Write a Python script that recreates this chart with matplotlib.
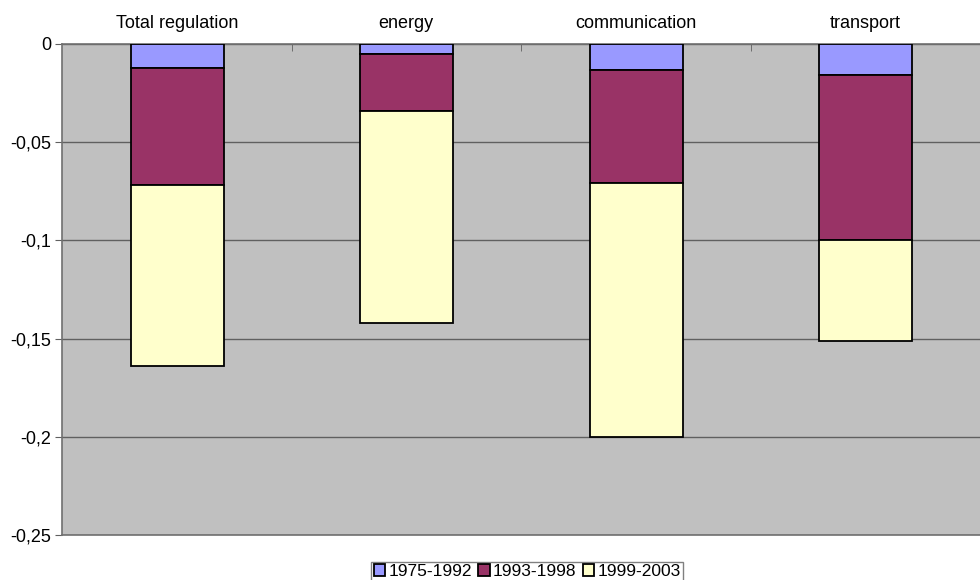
import matplotlib
matplotlib.use("Agg")
import matplotlib.pyplot as plt
import numpy as np

categories = ["Total regulation", "energy", "communication", "transport"]
series_names = ["1975-1992", "1993-1998", "1999-2003"]
s1975 = [-0.012, -0.005, -0.013, -0.016]
s1993 = [-0.060, -0.029, -0.058, -0.084]
s1999 = [-0.092, -0.108, -0.129, -0.051]
colors = ["#9999FF", "#993366", "#FFFFCC"]
yticks = [0, -0.05, -0.1, -0.15, -0.2, -0.25]
ytick_labels = ["0", "-0,05", "-0,1", "-0,15", "-0,2", "-0,25"]

plt.rcParams['font.family'] = ['Liberation Sans', 'DejaVu Sans']
fig = plt.figure(figsize=(9.8, 5.8), dpi=100)
ax = fig.add_axes([62/980, 1-535/580, (980-62)/980, (535-44)/580])
ax.set_facecolor("#C0C0C0")

x = np.arange(len(categories))
bottom = np.zeros(len(categories))
for vals, name, c in zip([s1975, s1993, s1999], series_names, colors):
    ax.bar(x + 0.003, vals, bottom=bottom, width=0.405, color=c, edgecolor="black",
           linewidth=1.3, label=name, zorder=3)
    bottom = bottom + np.array(vals)

ax.set_xlim(-0.5, len(categories) - 0.5)
ax.set_ylim(-0.25, 0)
ax.set_yticks(yticks)
ax.set_yticklabels(ytick_labels, fontsize=13)
ax.yaxis.grid(True, color="#606060", linewidth=1, zorder=1)
ax.set_axisbelow(True)

ax.xaxis.tick_top()
ax.set_xticks(x)
ax.set_xticklabels(categories, fontsize=13)
ax.tick_params(axis='x', which='major', length=0, pad=9)
ax.set_xticks(np.arange(0.5, len(categories) - 0.5), minor=True)
ax.tick_params(axis='x', which='minor', direction='in', length=5, color="#606060", top=True, bottom=False)
ax.tick_params(axis='y', length=5, color="#606060", direction='out', pad=3)

for sp in ["top", "left", "bottom"]:
    ax.spines[sp].set_color("#707070")
    ax.spines[sp].set_linewidth(1.2)
ax.spines["right"].set_visible(False)

leg = fig.legend(loc="lower center", bbox_to_anchor=(0.538, -0.006), ncol=3, fontsize=12.5,
                 frameon=True, fancybox=False, edgecolor="#606060",
                 handlelength=0.65, handleheight=0.65, handletextpad=0.2,
                 columnspacing=0.35, borderpad=0.15, borderaxespad=0.1)
leg.get_frame().set_linewidth(1)

fig.savefig("out.png", dpi=100)
